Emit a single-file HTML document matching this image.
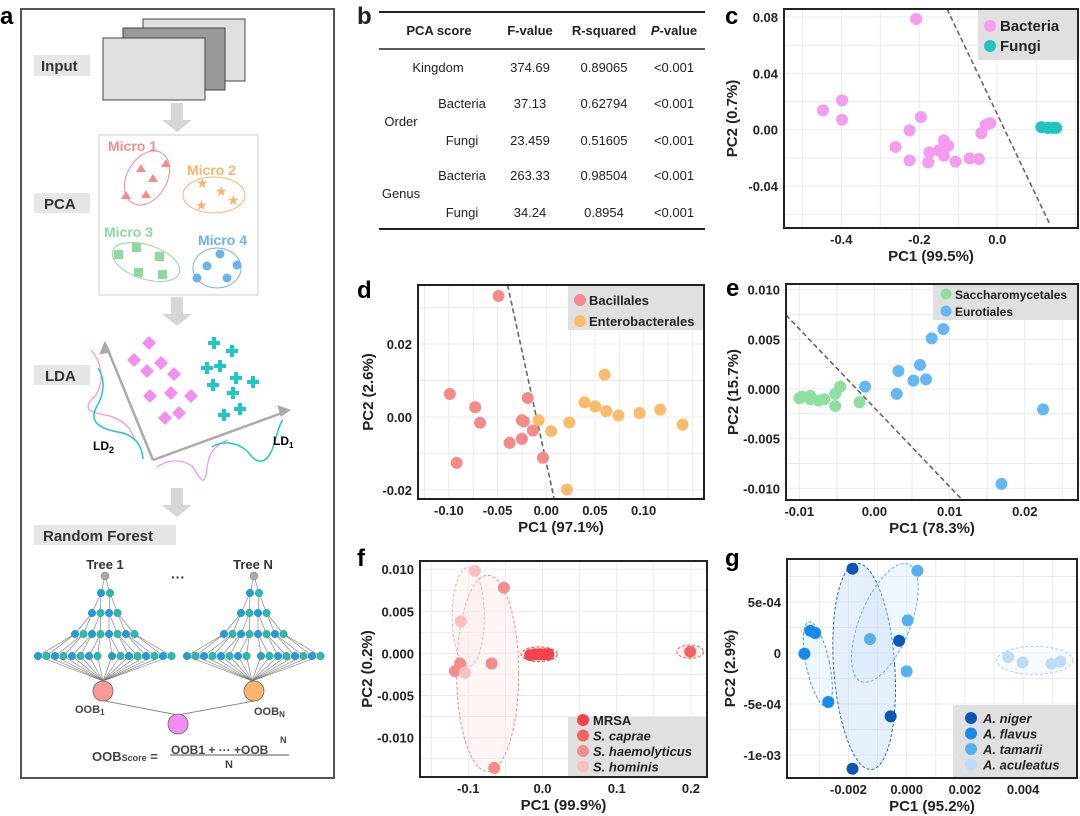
<!DOCTYPE html>
<html><head><meta charset="utf-8"><style>
html,body{margin:0;padding:0;background:#fff}
svg{display:block;font-family:"Liberation Sans",Arial,sans-serif}
.b{font-weight:bold}
</style></head><body>
<svg id="fig" width="1080" height="816" viewBox="0 0 1080 816" xmlns="http://www.w3.org/2000/svg">
<!-- Panel a -->
<g>
<text x="0" y="24" font-size="24" class="b">a</text>
<rect x="21" y="9" width="313" height="769" fill="none" stroke="#555" stroke-width="2"/>
<rect x="34" y="55" width="56" height="21" fill="#e6e6e6"/>
<text x="41" y="71" font-size="15" class="b" fill="#333">Input</text>
<rect x="143" y="19" width="102" height="62" fill="#e0e0e0" stroke="#444"/>
<rect x="123" y="28" width="102" height="62" fill="#999" stroke="#444"/>
<rect x="103" y="38" width="102" height="62" fill="#e0e0e0" stroke="#444"/>
<path d="M171 103h12v17h9l-15 12l-15-12h9z" fill="#d6d6d6"/>
<rect x="99" y="135" width="159" height="160" fill="#fff" stroke="#ccc"/>
<rect x="34" y="193" width="56" height="20" fill="#e6e6e6"/>
<text x="44" y="209" font-size="15" class="b" fill="#333">PCA</text>
<text x="108" y="151" font-size="14" class="b" fill="#f48c8c">Micro 1</text>
<ellipse cx="147" cy="178" rx="20" ry="29" transform="rotate(30 147 178)" fill="none" stroke="#f48c8c"/>
<g fill="#f48c8c">
<path d="M141 164l5 8h-10z"/><path d="M166 159l5 8h-10z"/><path d="M153 174l5 8h-10z"/><path d="M126 191l5 8h-10z"/><path d="M146 190l5 8h-10z"/></g>
<text x="187" y="175" font-size="14" class="b" fill="#f9b56b">Micro 2</text>
<ellipse cx="214" cy="195" rx="31" ry="18" fill="none" stroke="#f9b56b"/>
<g fill="#f9b56b" font-size="14"><text x="196" y="188">★</text><text x="215" y="196">★</text><text x="227" y="205">★</text><text x="195" y="210">★</text></g>
<text x="104" y="237" font-size="14" class="b" fill="#8ed99f">Micro 3</text>
<ellipse cx="146" cy="262" rx="35" ry="17" transform="rotate(18 146 262)" fill="none" stroke="#8ed99f"/>
<g fill="#8ed99f"><rect x="132" y="243" width="9" height="9"/><rect x="114" y="250" width="9" height="9"/><rect x="155" y="252" width="9" height="9"/><rect x="134" y="268" width="9" height="9"/><rect x="158" y="270" width="9" height="9"/></g>
<text x="198" y="245" font-size="14" class="b" fill="#6bb3ef">Micro 4</text>
<ellipse cx="217" cy="268" rx="24" ry="20" fill="none" stroke="#6bb3ef"/>
<g fill="#6bb3ef"><circle cx="220" cy="254" r="4.5"/><circle cx="207" cy="266" r="4.5"/><circle cx="237" cy="265" r="4.5"/><circle cx="197" cy="278" r="4.5"/><circle cx="227" cy="278" r="4.5"/></g>
<path d="M171 297h12v17h9l-15 12l-15-12h9z" fill="#d6d6d6"/>
<rect x="34" y="365" width="56" height="20" fill="#e6e6e6"/>
<text x="45" y="381" font-size="15" class="b" fill="#333">LDA</text>
<g stroke="#aaa" stroke-width="2.5" fill="#aaa">
<line x1="153" y1="460" x2="108" y2="350"/><path d="M105 342l-5 12l10-2z" stroke-width="1"/>
<line x1="153" y1="460" x2="282" y2="413"/><path d="M290 410l-12-4l3 10z" stroke-width="1"/></g>
<g fill="#f28ef0" id="diamonds"></g>
<g fill="#1ec8c8" id="crosses"></g>
<path d="M91 350C100 360 106 378 96 395C80 410 90 412 110 416C128 422 132 432 135 440" fill="none" stroke="#f28ef0" stroke-width="1.2"/>
<path d="M98 368C106 380 104 395 96 408C88 425 105 430 123 433C138 438 142 448 143 459" fill="none" stroke="#1ec8c8" stroke-width="1.5"/>
<path d="M157 467C168 460 180 458 192 466C200 478 203 486 206 475C208 460 209 447 228 440" fill="none" stroke="#f28ef0" stroke-width="1.2"/>
<path d="M212 447C222 440 238 442 248 452C258 466 266 463 272 450C278 432 280 422 283 420" fill="none" stroke="#1ec8c8" stroke-width="1.5"/>
<text x="93" y="450" font-size="12" class="b">LD<tspan font-size="9" dy="3">2</tspan></text>
<text x="273" y="445" font-size="12" class="b">LD<tspan font-size="8" dy="3">1</tspan></text>
<path d="M171 488h12v17h9l-15 12l-15-12h9z" fill="#d6d6d6"/>
<rect x="34" y="525" width="142" height="20" fill="#e6e6e6"/>
<text x="43" y="541" font-size="15" class="b" fill="#333">Random Forest</text>
<text x="105" y="569" font-size="13" class="b" fill="#333" text-anchor="middle">Tree 1</text>
<text x="253" y="569" font-size="13" class="b" fill="#333" text-anchor="middle">Tree N</text>
<text x="178" y="582" font-size="14" class="b" fill="#333" text-anchor="middle">···</text>
<g id="trees"></g>
<line x1="105" y1="701" x2="178" y2="715" stroke="#888"/>
<line x1="254" y1="701" x2="178" y2="715" stroke="#888"/>
<circle cx="103" cy="691" r="10" fill="#f99a96" stroke="#666" stroke-width="0.8"/>
<circle cx="254" cy="691" r="10" fill="#f9b56b" stroke="#666" stroke-width="0.8"/>
<circle cx="178" cy="724" r="10" fill="#f58cf0" stroke="#666" stroke-width="0.8"/>
<text x="75" y="713" font-size="11" class="b" fill="#444">OOB<tspan font-size="8" dy="2">1</tspan></text>
<text x="254" y="715" font-size="11" class="b" fill="#444">OOB<tspan font-size="8" dy="2">N</tspan></text>
<text x="92" y="761" font-size="13" class="b" fill="#444">OOB<tspan font-size="9">Score</tspan> =</text>
<text x="171" y="754" font-size="12" class="b" fill="#444">OOB1 + ··· +OOB</text>
<text x="280" y="743" font-size="9" class="b" fill="#444">N</text>
<line x1="170" y1="755" x2="289" y2="755" stroke="#555"/>
<text x="229" y="768" font-size="11" class="b" fill="#444" text-anchor="middle">N</text>
</g>
<!-- Panel b -->
<g font-size="13" fill="#222">
<text x="357" y="24" font-size="24" class="b">b</text>
<line x1="379" y1="12" x2="705" y2="12" stroke="#222" stroke-width="2"/>
<line x1="379" y1="49" x2="705" y2="49" stroke="#222" stroke-width="1.5"/>
<line x1="379" y1="229" x2="705" y2="229" stroke="#222" stroke-width="2"/>
<g class="b" text-anchor="middle">
<text x="439" y="35">PCA score</text><text x="530" y="35">F-value</text><text x="604" y="35">R-squared</text><text x="674" y="35"><tspan font-style="italic">P</tspan>-value</text></g>
<g text-anchor="middle">
<text x="438" y="72">Kingdom</text><text x="530" y="72">374.69</text><text x="604" y="72">0.89065</text><text x="674" y="72">&lt;0.001</text>
<text x="401" y="126">Order</text>
<text x="462" y="108">Bacteria</text><text x="530" y="108">37.13</text><text x="604" y="108">0.62794</text><text x="674" y="108">&lt;0.001</text>
<text x="462" y="145">Fungi</text><text x="530" y="145">23.459</text><text x="604" y="145">0.51605</text><text x="674" y="145">&lt;0.001</text>
<text x="401" y="198">Genus</text>
<text x="462" y="180">Bacteria</text><text x="530" y="180">263.33</text><text x="604" y="180">0.98504</text><text x="674" y="180">&lt;0.001</text>
<text x="462" y="217">Fungi</text><text x="530" y="217">34.24</text><text x="604" y="217">0.8954</text><text x="674" y="217">&lt;0.001</text>
</g></g>
<g id="plots"></g>
</svg>
<script>
// ---------- data: panel c ----------
const cBacteriaX=[-0.208,-0.447,-0.398,-0.398,-0.196,-0.225,-0.261,-0.225,-0.177,-0.174,-0.150,-0.137,-0.137,-0.126,-0.107,-0.071,-0.047,-0.041,-0.030,-0.018];
const cBacteriaY=[0.0786,0.0137,0.0208,0.0071,0.009,-0.0005,-0.0123,-0.0218,-0.0232,-0.0161,-0.0147,-0.0076,-0.0185,-0.0114,-0.0227,-0.0204,-0.0208,-0.0024,0.0033,0.0047];
const cFungiX=[0.113,0.130,0.143,0.151];
const cFungiY=[0.0018,0.0013,0.0013,0.0013];
const cXTicks=[-0.4,-0.2,0.0];
const cXTickLabels=["-0.4","-0.2","0.0"];
const cYTicks=[0.08,0.04,0.00,-0.04];
const cYTickLabels=["0.08","0.04","0.00","-0.04"];
const cDashX=[-0.129,0.134], cDashY=[0.0857,-0.0667];
// ---------- data: panel d ----------
const dBacX=[-0.049,-0.099,-0.073,-0.068,-0.092,-0.019,-0.025,-0.023,-0.0137,-0.0376,-0.025,-0.0034];
const dBacY=[0.0332,0.0063,0.0027,-0.0016,-0.0126,0.0052,-0.0009,-0.0012,-0.0037,-0.0071,-0.006,-0.0112];
const dEntX=[-0.0079,0.005,0.0236,0.0212,0.0393,0.0503,0.0599,0.0616,0.0742,0.0958,0.117,0.140];
const dEntY=[-0.0009,-0.0039,-0.0015,-0.0199,0.004,0.0029,0.0116,0.0016,0.0004,0.0011,0.002,-0.0021];
const dXTicks=[-0.10,-0.05,0.00,0.05,0.10];
const dXTickLabels=["-0.10","-0.05","0.00","0.05","0.10"];
const dYTicks=[0.02,0.00,-0.02];
const dYTickLabels=["0.02","0.00","-0.02"];
const dDashX=[-0.0397,0.0082], dDashY=[0.0362,-0.0225];
// ---------- data: panel e ----------
const eSacX=[-0.0100,-0.00965,-0.00854,-0.00854,-0.00743,-0.00668,-0.00522,-0.00522,-0.00456,-0.00199];
const eSacY=[-0.00094,-0.00077,-0.0007,-0.00104,-0.00117,-0.00104,-0.0005,-0.00171,0.00023,-0.00134];
const eEurX=[-0.00124,0.00296,0.00319,0.00518,0.00606,0.00686,0.00761,0.00916,0.02243,0.0169];
const eEurY=[0.00023,-0.0005,0.00181,0.00084,0.00242,0.00097,0.0051,0.00604,-0.00205,-0.00956];
const eXTicks=[-0.01,0.00,0.01,0.02];
const eXTickLabels=["-0.01","0.00","0.01","0.02"];
const eYTicks=[0.010,0.005,0.000,-0.005,-0.010];
const eYTickLabels=["0.010","0.005","0.000","-0.005","-0.010"];
const eDashX=[-0.01177,0.0116], eDashY=[0.00745,-0.0111];
// ---------- data: panel f ----------
const fMrsaX=[-0.0168,-0.010,-0.0033,0.0035,0.008];
const fMrsaY=[-0.0002,-0.0001,-0.0001,-0.0001,-0.0001];
const fCapX=[0.199], fCapY=[0.0002];
const fHaemX=[-0.118,-0.111,-0.0685,-0.052,-0.065];
const fHaemY=[-0.0021,-0.0012,-0.0012,0.0078,-0.0136];
const fHomX=[-0.091,-0.110,-0.1045];
const fHomY=[0.0098,0.0038,-0.0023];
const fXTicks=[-0.1,0.0,0.1,0.2];
const fXTickLabels=["-0.1","0.0","0.1","0.2"];
const fYTicks=[0.010,0.005,0.000,-0.005,-0.010];
const fYTickLabels=["0.010","0.005","0.000","-0.005","-0.010"];
const fEllCx=[-0.0738,-0.100,-0.0045,0.199];
const fEllCy=[-0.00237,0.00434,-0.0001,0.0002];
const fEllRx=[0.0418,0.0216,0.0245,0.018];
const fEllRy=[0.01164,0.0059,0.00087,0.00079];
// ---------- data: panel g ----------
const gNigX=[-0.00186,-0.00026,-0.00055,-0.00186];
const gNigY=[0.000827,0.000121,-0.000621,-0.001134];
const gFlaX=[-0.00331,-0.00314,-0.00351,-0.00269];
const gFlaY=[0.000219,0.000196,-0.0000065,-0.00048];
const gTamX=[0.00037,0.000034,-0.00126,0.0];
const gTamY=[0.000807,0.00032,0.000137,-0.00018];
const gAcuX=[0.00349,0.00398,0.00497,0.00528];
const gAcuY=[-0.0000392,-0.0000915,-0.000105,-0.0000817];
const gXTicks=[-0.002,0.000,0.002,0.004];
const gXTickLabels=["-0.002","0.000","0.002","0.004"];
const gYTicks=[0.0005,0,-0.0005,-0.001];
const gYTickLabels=["5e-04","0","-5e-04","-1e-03"];
const gEllCx=[-0.00146,-0.00305,-0.00075,0.00440];
const gEllCy=[-0.000131,-0.00011,0.000295,-0.000072];
const gEllRx=[0.00105,0.0004,0.00087,0.00131];
const gEllRy=[0.001013,0.000425,0.00062,0.000137];
const gEllRot=[-4,-12,22,0];

const NS="http://www.w3.org/2000/svg";
function mk(parent,tag,attrs){const e=document.createElementNS(NS,tag);for(const k in attrs)e.setAttribute(k,attrs[k]);parent.appendChild(e);return e;}

(function(){
 const dg=document.getElementById('diamonds');
 [[149,343],[134,360],[161,363],[147,371],[174,374],[150,396],[171,393],[191,396],[165,418],[179,413]].forEach(p=>{
  const e=mk(dg,'path',{d:`M${p[0]} ${p[1]-7}l7 7l-7 7l-7-7z`});
  
  });
 const cg=document.getElementById('crosses');
 [[214,343],[232,351],[207,368],[220,366],[236,378],[253,382],[213,385],[233,393],[224,415],[240,409]].forEach(p=>{
  const e=mk(cg,'path',{d:`M${p[0]-2} ${p[1]-6}h4v4h4v4h-4v4h-4v-4h-4v-4h4z`});
  
  });
 const tg=document.getElementById('trees');
 [0,149].forEach(off=>{
  const rootX=105+off, oobX=103+off;
  const layers=[[rootX],[101,110],[92,100.5,109,117.5],[75,83.5,92,100.5,109,117.5,126,134.5],
   [38,46.5,55,63.5,72,80.5,89,97.5,112,120.5,129,137.5,146,154.5,163,171.5]];
  const ys=[576,593,613,634,656];
  for(let l=1;l<layers.length;l++){
   layers[l].forEach((x,i)=>{
    const px=l===1?rootX:layers[l-1][Math.floor(i/2)]+off;
    mk(tg,'line',{x1:px,y1:ys[l-1],x2:x+off,y2:ys[l],stroke:'#777','stroke-width':0.6});
   });
  }
  layers[4].forEach(x=>mk(tg,'line',{x1:x+off,y1:656,x2:oobX,y2:681,stroke:'#777','stroke-width':0.6}));
  layers.forEach((L,l)=>L.forEach((x,i)=>{
   const e=mk(tg,'circle',{cx:l===0?rootX:x+off,cy:ys[l],r:l===0?4:3.8,fill:l===0?'#aaa':(i%2?'#1fbfb8':'#1aa0e0'),stroke:'#666','stroke-width':0.4});
   
   
  }));
 });
})();

function plot(c){
 const g=mk(document.getElementById('plots'),'g',{});
 
 
 const X=v=>c.L+(v-c.xmin)/(c.xmax-c.xmin)*(c.R-c.L);
 const Y=v=>c.B-(v-c.ymin)/(c.ymax-c.ymin)*(c.B-c.T);
 mk(g,'rect',{x:c.L,y:c.T,width:c.R-c.L,height:c.B-c.T,fill:'#fff'});
 const xs=c.xt, ys=c.yt, dx=xs[1]-xs[0], dy=ys[0]-ys[1];
 for(let v=xs[0]-2*dx;v<=c.xmax+dx;v+=dx/2){if(v<c.xmin||v>c.xmax)continue;mk(g,'line',{x1:X(v),x2:X(v),y1:c.T,y2:c.B,stroke:'#ebebeb','stroke-width':1});}
 for(let v=ys[ys.length-1]-2*dy;v<=c.ymax+dy;v+=dy/2){if(v<c.ymin||v>c.ymax)continue;mk(g,'line',{y1:Y(v),y2:Y(v),x1:c.L,x2:c.R,stroke:'#ebebeb','stroke-width':1});}
 const lab=mk(g,'text',{x:c.lx,y:c.ly,'font-size':24,'font-weight':'bold'});lab.textContent=c.letter;
 
 
 xs.forEach((v,i)=>{const t=mk(g,'text',{x:X(v),y:c.B+16,'font-size':13,'font-weight':'bold','text-anchor':'middle',fill:'#222'});t.textContent=c.xl[i];
  
  });
 ys.forEach((v,i)=>{const t=mk(g,'text',{x:c.L-6,y:Y(v)+5,'font-size':13,'font-weight':'bold','text-anchor':'end',fill:'#222'});t.textContent=c.yl[i];
  
  });
 const xt=mk(g,'text',{x:(c.L+c.R)/2,y:c.B+33,'font-size':15,'font-weight':'bold','text-anchor':'middle',fill:'#222'});xt.textContent=c.xtitle;
 
 
 const yx=c.ytx, yy=(c.T+c.B)/2;
 const yt=mk(g,'text',{x:yx,y:yy,'font-size':15,'font-weight':'bold','text-anchor':'middle',fill:'#222',transform:`rotate(-90 ${yx} ${yy})`});yt.textContent=c.ytitle;
 
 
 if(c.dash){const d=mk(g,'line',{x1:X(c.dash[0][0]),y1:Y(c.dash[1][0]),x2:X(c.dash[0][1]),y2:Y(c.dash[1][1]),stroke:'#666','stroke-width':1.6,'stroke-dasharray':'5,3'});
  
  }
 (c.ells||[]).forEach(el=>{const cx=X(el.cx),cy=Y(el.cy);
  const e=mk(g,'ellipse',{cx,cy,rx:Math.abs(X(el.cx+el.rx)-cx),ry:Math.abs(Y(el.cy+el.ry)-cy),fill:el.fill,'fill-opacity':0.35,stroke:el.stroke,'stroke-width':1,'stroke-dasharray':'3,2',transform:`rotate(${el.rot||0} ${cx} ${cy})`});
  
  });
 c.series.forEach(s=>s.x.forEach((v,i)=>{const p=mk(g,'circle',{cx:X(v),cy:Y(s.y[i]),r:c.r||6,fill:s.color});
  
  }));
 const lg=c.leg;
 const lr=mk(g,'rect',{x:lg.x,y:lg.y,width:lg.w,height:lg.h,fill:'#e0e0e0'});
 
 
 c.series.forEach((s,i)=>{const yy=lg.y0+i*lg.dy;
  mk(g,'circle',{cx:lg.dotx,cy:yy,r:lg.r||6,fill:s.color});
  const t=mk(g,'text',{x:lg.dotx+lg.tx,y:yy+5,'font-size':lg.fs,'font-weight':'bold','font-style':lg.it?'italic':'normal',fill:'#222'});t.textContent=s.label;
  
  });
 mk(g,'rect',{x:c.L,y:c.T,width:c.R-c.L,height:c.B-c.T,fill:'none',stroke:'#222','stroke-width':2});
}

plot({name:'panel-c-kingdom-pca',letter:'c',lx:725,ly:24,L:784,R:1078,T:9,B:228,xmin:-0.547,xmax:0.207,ymin:-0.0698,ymax:0.0857,
 xt:cXTicks,xl:cXTickLabels,yt:cYTicks,yl:cYTickLabels,xtitle:'PC1 (99.5%)',ytitle:'PC2 (0.7%)',ytx:737,dash:[cDashX,cDashY],
 series:[{key:'bacteria',label:'Bacteria',color:'#f59cf0',x:cBacteriaX,y:cBacteriaY},{key:'fungi',label:'Fungi',color:'#1dc5c2',x:cFungiX,y:cFungiY}],
 leg:{x:978,y:9,w:100,h:51,y0:26,dy:20,dotx:990,tx:10,fs:15}});
plot({name:'panel-d-bacteria-order-pca',letter:'d',lx:357,ly:298,L:418,R:704,T:285,B:499,xmin:-0.1317,xmax:0.162,ymin:-0.0225,ymax:0.0362,
 xt:dXTicks,xl:dXTickLabels,yt:dYTicks,yl:dYTickLabels,xtitle:'PC1 (97.1%)',ytitle:'PC2 (2.6%)',ytx:373,dash:[dDashX,dDashY],
 series:[{key:'bacillales',label:'Bacillales',color:'#f7898a',x:dBacX,y:dBacY},{key:'enterobacterales',label:'Enterobacterales',color:'#fbbb6b',x:dEntX,y:dEntY}],
 leg:{x:568,y:286,w:136,h:44,y0:300,dy:21,dotx:580,tx:9,fs:13}});
plot({name:'panel-e-fungi-order-pca',letter:'e',lx:726,ly:296,L:786,R:1078,T:284,B:500,xmin:-0.01177,xmax:0.02708,ymin:-0.01118,ymax:0.01057,
 xt:eXTicks,xl:eXTickLabels,yt:eYTicks,yl:eYTickLabels,xtitle:'PC1 (78.3%)',ytitle:'PC2 (15.7%)',ytx:738,dash:[eDashX,eDashY],
 series:[{key:'saccharomycetales',label:'Saccharomycetales',color:'#8ee0a0',x:eSacX,y:eSacY},{key:'eurotiales',label:'Eurotiales',color:'#63b8f5',x:eEurX,y:eEurY}],
 leg:{x:933,y:285,w:145,h:35,y0:294,dy:17,dotx:946,tx:9,fs:12,r:5.5}});
plot({name:'panel-f-bacteria-genus-pca',letter:'f',lx:357,ly:566,L:420,R:707,T:561,B:777,xmin:-0.165,xmax:0.2216,ymin:-0.01468,ymax:0.01097,
 xt:fXTicks,xl:fXTickLabels,yt:fYTicks,yl:fYTickLabels,xtitle:'PC1 (99.9%)',ytitle:'PC2 (0.2%)',ytx:372,
 ells:[{cx:fEllCx[0],cy:fEllCy[0],rx:fEllRx[0],ry:fEllRy[0],fill:'#fde3e3',stroke:'#f48a8a'},{cx:fEllCx[1],cy:fEllCy[1],rx:fEllRx[1],ry:fEllRy[1],fill:'#fde8e8',stroke:'#f7b0b0'},
  {cx:fEllCx[2],cy:fEllCy[2],rx:fEllRx[2],ry:fEllRy[2],fill:'#fdd',stroke:'#f5404a'},{cx:fEllCx[3],cy:fEllCy[3],rx:fEllRx[3],ry:fEllRy[3],fill:'#fdd',stroke:'#f46060'}],
 series:[{key:'mrsa',label:'MRSA',color:'#f5424a',x:fMrsaX,y:fMrsaY},{key:'s-caprae',label:'S. caprae',color:'#f46464',x:fCapX,y:fCapY},
  {key:'s-haemolyticus',label:'S. haemolyticus',color:'#f58c8c',x:fHaemX,y:fHaemY},{key:'s-hominis',label:'S. hominis',color:'#f9c0c0',x:fHomX,y:fHomY}],
 leg:{x:568,y:717,w:139,h:60,y0:720,dy:15.5,dotx:583,tx:10,fs:13,r:6}});
plot({name:'panel-g-fungi-genus-pca',letter:'g',lx:725,ly:566,L:787,R:1077,T:559,B:778,xmin:-0.00411,xmax:0.00585,ymin:-0.001225,ymax:0.000922,
 xt:gXTicks,xl:gXTickLabels,yt:gYTicks,yl:gYTickLabels,xtitle:'PC1 (95.2%)',ytitle:'PC2 (2.9%)',ytx:735,
 ells:[{cx:gEllCx[0],cy:gEllCy[0],rx:gEllRx[0],ry:gEllRy[0],rot:gEllRot[0],fill:'#b8d4f5',stroke:'#1a66d0'},{cx:gEllCx[1],cy:gEllCy[1],rx:gEllRx[1],ry:gEllRy[1],rot:gEllRot[1],fill:'#cfe6fb',stroke:'#3d9ef0'},
  {cx:gEllCx[2],cy:gEllCy[2],rx:gEllRx[2],ry:gEllRy[2],rot:gEllRot[2],fill:'#cfe6fb',stroke:'#5ab2f0'},{cx:gEllCx[3],cy:gEllCy[3],rx:gEllRx[3],ry:gEllRy[3],rot:gEllRot[3],fill:'#eaf4fd',stroke:'#a9d2f5'}],
 series:[{key:'a-niger',label:'A. niger',color:'#0b57b8',x:gNigX,y:gNigY},{key:'a-flavus',label:'A. flavus',color:'#168af0',x:gFlaX,y:gFlaY},
  {key:'a-tamarii',label:'A. tamarii',color:'#55b0f2',x:gTamX,y:gTamY},{key:'a-aculeatus',label:'A. aculeatus',color:'#bcdcf8',x:gAcuX,y:gAcuY}],
 leg:{x:953,y:705,w:124,h:73,y0:718,dy:15.5,dotx:971,tx:12,fs:13,it:true}});
document.querySelectorAll('#plots text').forEach(t=>{if(/^S\. /.test(t.textContent))t.setAttribute('font-style','italic');});
</script>
</body></html>
